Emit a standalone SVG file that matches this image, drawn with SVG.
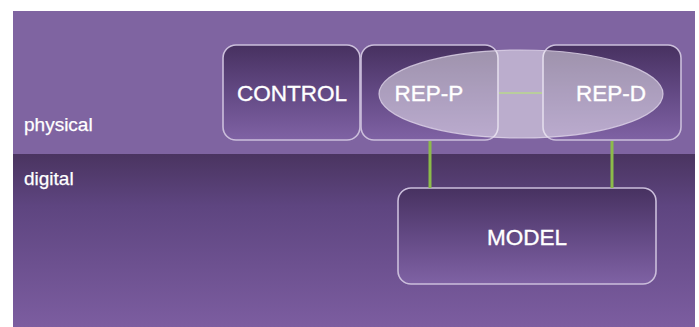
<svg xmlns="http://www.w3.org/2000/svg" width="699" height="327" viewBox="0 0 699 327">
<defs>
<linearGradient id="gDigital" x1="0" y1="0" x2="0" y2="1">
<stop offset="0" stop-color="#4a3460"/>
<stop offset="0.3" stop-color="#5e4580"/>
<stop offset="1" stop-color="#7c5da0"/>
</linearGradient>
<linearGradient id="gBox" x1="0" y1="0" x2="0" y2="1">
<stop offset="0" stop-color="#473160"/>
<stop offset="0.5" stop-color="#634984"/>
<stop offset="1" stop-color="#7f62a4"/>
</linearGradient>
<style>
.box{fill:url(#gBox);stroke:#cbbedb;stroke-width:1.6}
.lbl{font-family:"Liberation Sans",Arial,sans-serif;fill:#ffffff;stroke:#ffffff;stroke-width:0.35}
.big{font-size:22.5px;text-anchor:middle}
.side{font-size:19px;stroke-width:0.25}
.link{stroke:#8cbb4a;stroke-width:3;fill:none}
.thin{stroke:#b8d98c;stroke-width:1.5;fill:none}
</style>
</defs>
<rect x="0" y="0" width="699" height="327" fill="#ffffff"/>
<g id="band-physical">
<rect x="13" y="11" width="682" height="143" fill="#7f64a1"/>
<text class="lbl side" x="24" y="131">physical</text>
</g>
<g id="band-digital">
<rect x="13" y="154" width="682" height="173" fill="url(#gDigital)"/>
<text class="lbl side" x="24" y="185">digital</text>
</g>
<g id="control">
<rect class="box" x="223" y="45" width="137" height="95" rx="13"/>
<text class="lbl big" x="292" y="101">CONTROL</text>
</g>
<g id="rep-p-box">
<rect class="box" x="361" y="45" width="137" height="95" rx="13"/>
</g>
<g id="rep-d-box">
<rect class="box" x="543" y="45" width="138" height="95" rx="13"/>
</g>
<g id="rep-ellipse">
<ellipse cx="521" cy="94" rx="142" ry="44" fill="#ffffff" fill-opacity="0.47" stroke="#e0d6ea" stroke-opacity="0.8" stroke-width="1.2"/>
</g>
<g id="model">
<rect class="box" x="398" y="188" width="258" height="96" rx="13"/>
<text class="lbl big" x="527" y="245">MODEL</text>
</g>
<g id="connectors">
<line class="thin" x1="499" y1="93" x2="542" y2="93"/>
<line class="link" x1="430" y1="141" x2="430" y2="188"/>
<line class="link" x1="612" y1="141" x2="612" y2="188"/>
</g>
<g id="rep-labels">
<text class="lbl big" x="429" y="101">REP-P</text>
<text class="lbl big" x="611" y="101">REP-D</text>
</g>
</svg>
